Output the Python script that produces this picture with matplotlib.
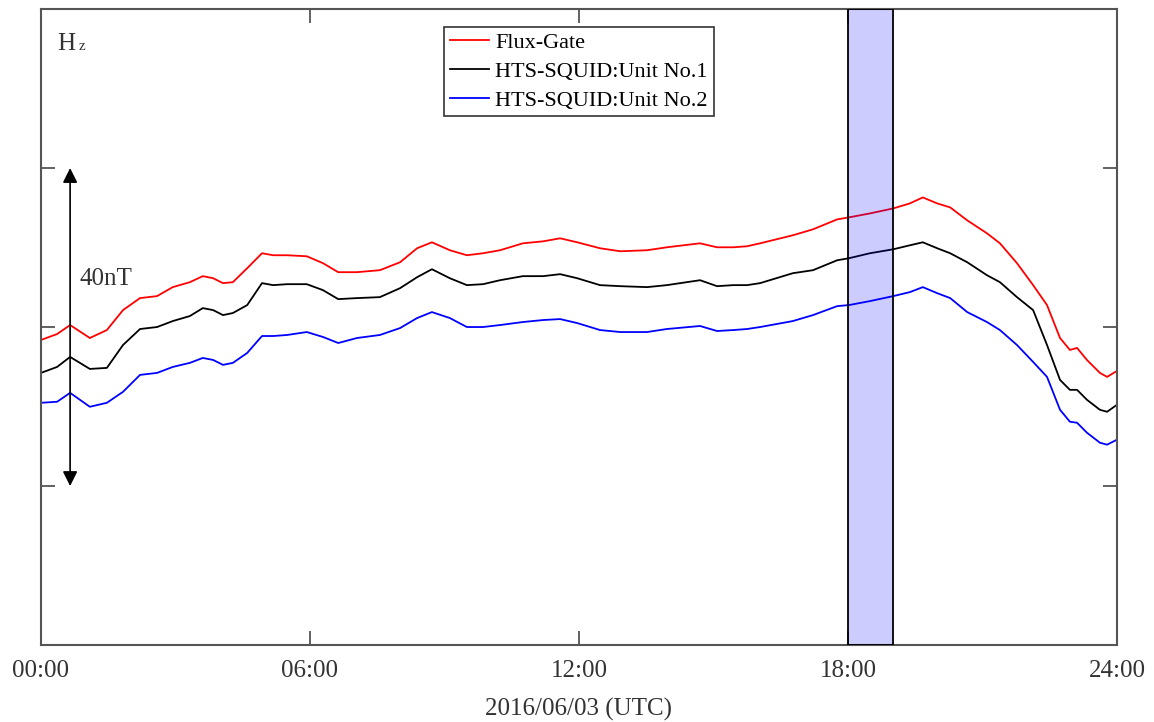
import matplotlib
matplotlib.use("Agg")
import matplotlib.pyplot as plt

plt.rcParams['font.family'] = ['Liberation Serif', 'DejaVu Serif']

# time of day (hours, UTC) and field values (nT, relative)
hours = [0.00, 0.36, 0.65, 1.09, 1.47, 1.83, 2.21, 2.59, 2.94, 3.32, 3.61, 3.84,
         4.06, 4.28, 4.60, 4.93, 5.18, 5.49, 5.93, 6.29, 6.63, 7.05, 7.56, 8.01,
         8.39, 8.72, 9.12, 9.50, 9.86, 10.24, 10.75, 11.20, 11.58, 11.96, 12.47,
         12.92, 13.52, 13.96, 14.70, 15.08, 15.44, 15.75, 16.04, 16.77, 17.22,
         17.76, 18.02, 18.49, 19.01, 19.38, 19.67, 19.99, 20.28, 20.66, 21.10,
         21.39, 21.77, 22.13, 22.44, 22.73, 22.95, 23.11, 23.33, 23.62, 23.78, 24.00]

flux_gate = [-1.63, -0.88, 0.25, -1.38, -0.38, 2.13, 3.64, 3.89, 5.02, 5.64, 6.40, 6.14,
             5.52, 5.64, 7.40, 9.28, 9.03, 9.03, 8.90, 8.03, 6.90, 6.90, 7.15, 8.15,
             9.91, 10.66, 9.66, 9.03, 9.28, 9.66, 10.53, 10.78, 11.16, 10.66, 9.91,
             9.53, 9.66, 10.03, 10.53, 10.03, 10.03, 10.16, 10.53, 11.54, 12.29,
             13.54, 13.79, 14.29, 14.92, 15.55, 16.30, 15.55, 15.05, 13.42, 11.79,
             10.53, 8.03, 5.27, 2.76, -1.38, -2.88, -2.63, -4.14, -5.77, -6.27, -5.52]

squid_1 = [-5.77, -5.02, -3.76, -5.27, -5.14, -2.26, -0.25, 0.00, 0.75, 1.38, 2.38, 2.13,
           1.50, 1.76, 2.76, 5.52, 5.27, 5.39, 5.39, 4.64, 3.51, 3.64, 3.76, 4.89,
           6.27, 7.27, 6.14, 5.27, 5.39, 5.89, 6.40, 6.40, 6.65, 6.14, 5.27,
           5.14, 5.02, 5.27, 5.89, 5.14, 5.27, 5.27, 5.52, 6.77, 7.15,
           8.40, 8.65, 9.28, 9.78, 10.28, 10.66, 9.91, 9.28, 8.15, 6.52,
           5.64, 3.76, 2.13, -2.26, -6.65, -7.90, -7.90, -9.15, -10.41, -10.66, -9.78]

squid_2 = [-9.53, -9.40, -8.28, -10.03, -9.53, -8.15, -6.02, -5.77, -5.02, -4.51, -3.89, -4.14,
           -4.76, -4.51, -3.26, -1.13, -1.13, -1.00, -0.63, -1.25, -2.01, -1.38, -1.00, -0.13,
           1.13, 1.88, 1.13, 0.00, 0.00, 0.25, 0.63, 0.88, 1.00, 0.50, -0.38,
           -0.63, -0.63, -0.25, 0.13, -0.50, -0.38, -0.25, 0.00, 0.75, 1.50,
           2.63, 2.76, 3.26, 3.89, 4.39, 5.02, 4.26, 3.64, 1.88, 0.63,
           -0.38, -2.26, -4.39, -6.27, -10.41, -11.91, -12.04, -13.29, -14.55, -14.80, -14.17]

x_ticks = [0, 6, 12, 18, 24]
x_labels = ['00:00', '06:00', '12:00', '18:00', '24:00']
y_ticks = [-40, -20, 0, 20, 40]
span_start, span_end = 18, 19
scale_top, scale_bottom = 20, -20

fig = plt.figure(figsize=(11.54, 7.22), dpi=100)
ax = fig.add_axes([0.0355, 0.1066, 0.9324, 0.8809])

ax.plot(hours, flux_gate, color='#ff0000', lw=1.3, label='Flux-Gate')
ax.plot(hours, squid_1, color='black', lw=1.3, label='HTS-SQUID:Unit No.1')
ax.plot(hours, squid_2, color='#0000ff', lw=1.3, label='HTS-SQUID:Unit No.2')

# highlighted hour, drawn over the curves
ax.axvspan(span_start, span_end, facecolor=(0, 0, 1, 0.2), edgecolor='black',
           lw=1.3, zorder=5)

# 40 nT scale arrow
ax.annotate('', xy=(0.65, scale_top), xytext=(0.65, scale_bottom),
            arrowprops=dict(arrowstyle='<|-|>', color='black', lw=1.2,
                            mutation_scale=22, shrinkA=0, shrinkB=0))
ax.text(0.87, 6.1, '40nT', fontsize=18, color='#333333', va='center', ha='left')

ax.text(0.36, 34.8, 'H', fontsize=18, color='#333333', va='baseline')
ax.text(0.85, 34.8, 'z', fontsize=11, color='#333333', va='baseline')

ax.set_xlim(0, 24)
ax.set_ylim(-40, 40)
ax.set_xticks(x_ticks)
ax.set_xticklabels(x_labels)
ax.set_yticks(y_ticks)
ax.set_yticklabels([])
ax.tick_params(direction='in', length=10, width=1.3, color='#555555',
               top=True, right=True, labelsize=18, labelcolor='#333333', pad=11)
ax.set_xlabel('2016/06/03 (UTC)', fontsize=18, color='#333333', labelpad=11)

for s in ax.spines.values():
    s.set_color('#555555')
    s.set_linewidth(1.5)

leg = ax.legend(loc='upper center', fontsize=16, frameon=True, fancybox=False,
                edgecolor='#333333', framealpha=1, borderaxespad=0.8,
                handlelength=1.75, handletextpad=0.3, labelspacing=0.38,
                borderpad=0.25)
leg.get_frame().set_linewidth(1.2)

fig.savefig('out.png', dpi=100)
